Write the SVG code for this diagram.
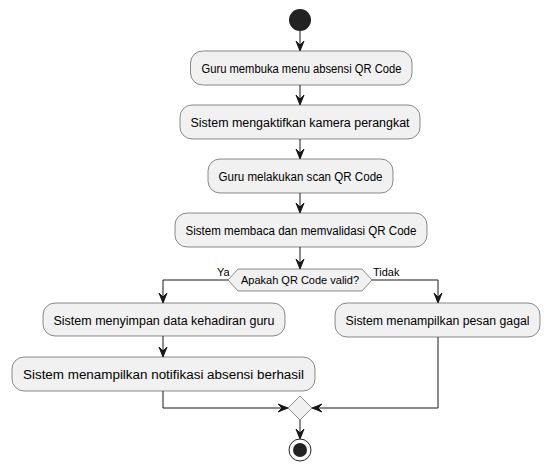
<svg xmlns="http://www.w3.org/2000/svg" width="550" height="465" viewBox="0 0 550 465">
<defs>
<style>
.box{fill:#F1F1F1;stroke:#181818;stroke-width:0.5}
.t{font-family:"Liberation Sans",Arial,sans-serif;font-size:12.5px;fill:#000;text-anchor:middle}
.lbl{font-family:"Liberation Sans",Arial,sans-serif;font-size:11px;fill:#000}
.ln{fill:none;stroke:#181818;stroke-width:1}
.ah{fill:#181818;stroke:#181818;stroke-width:1}
</style>
</defs>
<rect width="550" height="465" fill="#FFFFFF"/>
<g id="connectors">
<line class="ln" x1="300" y1="31" x2="300" y2="50"/>
<polygon class="ah" points="296,41 300,51 304,41 300,45"/>
<line class="ln" x1="300" y1="85" x2="300" y2="104"/>
<polygon class="ah" points="296,95 300,105 304,95 300,99"/>
<line class="ln" x1="300" y1="139" x2="300" y2="158"/>
<polygon class="ah" points="296,149 300,159 304,149 300,153"/>
<line class="ln" x1="300" y1="193" x2="300" y2="212"/>
<polygon class="ah" points="296,203 300,213 304,203 300,207"/>
<line class="ln" x1="300" y1="247" x2="300" y2="268"/>
<polygon class="ah" points="296,259 300,269 304,259 300,263"/>
<polyline class="ln" points="228,280 163,280 163,302"/>
<polygon class="ah" points="159,293 163,303 167,293 163,297"/>
<polyline class="ln" points="372,280 438,280 438,302"/>
<polygon class="ah" points="434,293 438,303 442,293 438,297"/>
<line class="ln" x1="163" y1="336" x2="163" y2="356"/>
<polygon class="ah" points="159,347 163,357 167,347 163,351"/>
<polyline class="ln" points="163,391 163,408 287,408"/>
<polygon class="ah" points="278,404 288,408 278,412 282,408"/>
<polyline class="ln" points="438,337 438,408 313,408"/>
<polygon class="ah" points="322,404 312,408 322,412 318,408"/>
<line class="ln" x1="300" y1="420" x2="300" y2="438"/>
<polygon class="ah" points="296,429 300,439 304,429 300,433"/>
<text class="lbl" x="217" y="276">Ya</text>
<text class="lbl" x="373" y="276">Tidak</text>
</g>
<g id="start"><circle cx="300" cy="20" r="11" fill="#222222"/></g>
<g id="n1"><rect class="box" x="190.5" y="51" width="221.5" height="34" rx="12"/><text class="t" x="301.5" y="72.5" textLength="200" lengthAdjust="spacingAndGlyphs">Guru membuka menu absensi QR Code</text></g>
<g id="n2"><rect class="box" x="180" y="105" width="240" height="34" rx="12"/><text class="t" x="300" y="126.5" textLength="219" lengthAdjust="spacingAndGlyphs">Sistem mengaktifkan kamera perangkat</text></g>
<g id="n3"><rect class="box" x="208" y="159" width="185" height="34" rx="12"/><text class="t" x="300.5" y="180.5" textLength="164" lengthAdjust="spacingAndGlyphs">Guru melakukan scan QR Code</text></g>
<g id="n4"><rect class="box" x="175" y="213" width="252" height="34" rx="12"/><text class="t" x="301" y="234.5" textLength="231" lengthAdjust="spacingAndGlyphs">Sistem membaca dan memvalidasi QR Code</text></g>
<g id="decision"><polygon class="box" points="228,280 238,269 362,269 372,280 362,291 238,291"/><text class="t" x="300" y="284" style="font-size:11px">Apakah QR Code valid?</text></g>
<g id="n5"><rect class="box" x="43" y="303" width="242" height="33" rx="12"/><text class="t" x="164" y="324.5" textLength="221" lengthAdjust="spacingAndGlyphs">Sistem menyimpan data kehadiran guru</text></g>
<g id="n6"><rect class="box" x="12" y="357" width="303" height="34" rx="12"/><text class="t" x="163.5" y="378.5" textLength="281" lengthAdjust="spacingAndGlyphs">Sistem menampilkan notifikasi absensi berhasil</text></g>
<g id="n7"><rect class="box" x="335" y="303" width="205" height="34" rx="12"/><text class="t" x="437.5" y="324.5" textLength="184" lengthAdjust="spacingAndGlyphs">Sistem menampilkan pesan gagal</text></g>
<g id="merge"><polygon class="box" points="300,396 312,408 300,420 288,408"/></g>
<g id="end"><circle cx="300" cy="450" r="11" fill="none" stroke="#222222" stroke-width="1"/><circle cx="300" cy="450" r="7" fill="#222222"/></g>
</svg>
